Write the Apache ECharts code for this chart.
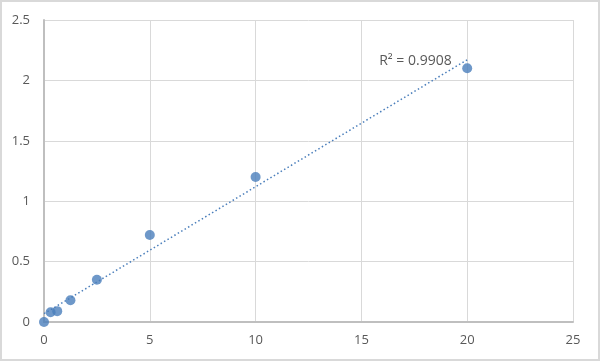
<!DOCTYPE html>
<html><head><meta charset="utf-8">
<script src="https://cdn.jsdelivr.net/npm/echarts@6/dist/echarts.min.js"></script>
<style>html,body{margin:0;padding:0;background:#fff}#c{width:600px;height:361px;box-sizing:border-box;border:2px solid #d9d9d9}</style>
</head><body><div id="c"></div>
<script>
const concentrations = [0, 0.3125, 0.625, 1.25, 2.5, 5, 10, 20];
const absorbances = [0, 0.08, 0.09, 0.18, 0.35, 0.72, 1.2, 2.1];
const xTicks = [0, 5, 10, 15, 20, 25];
const yTicks = [0, 0.5, 1, 1.5, 2, 2.5];
const r2Label = 'R² = 0.9908';

// linear least squares trendline from data
const n = concentrations.length;
const mx = concentrations.reduce((a,b)=>a+b,0)/n;
const my = absorbances.reduce((a,b)=>a+b,0)/n;
let sxy=0, sxx=0;
for(let i=0;i<n;i++){sxy+=(concentrations[i]-mx)*(absorbances[i]-my);sxx+=(concentrations[i]-mx)**2;}
const slope=sxy/sxx, intercept=my-slope*mx;
const xs0=concentrations[0], xs1=concentrations[n-1];
const trend=[[xs0,intercept+slope*xs0],[xs1,intercept+slope*xs1]];

const chart = echarts.init(document.getElementById('c'));
const lab = {color:'#595959',fontSize:13,fontFamily:'"Open Sans", Calibri, sans-serif'};
chart.setOption({
  animation:false,
  grid:{left:42,right:25,top:18,bottom:37,containLabel:false},
  xAxis:{type:'value',min:0,max:25,interval:5,
    axisLine:{show:true,onZero:false,lineStyle:{color:'#bfbfbf',width:2}},
    axisTick:{show:false},
    axisLabel:Object.assign({margin:12},lab),
    splitLine:{show:true,lineStyle:{color:'#d9d9d9',width:1}}},
  yAxis:{type:'value',min:0,max:2.5,interval:0.5,
    axisLine:{show:true,lineStyle:{color:'#bfbfbf',width:2}},
    axisTick:{show:false},
    axisLabel:Object.assign({margin:14},lab),
    splitLine:{show:true,lineStyle:{color:'#d9d9d9',width:1}}},
  series:[
    {type:'line',data:trend,symbol:'none',z:3,
     lineStyle:{color:'#4a7ebb',width:1.5,type:[1.5,2.5]},
     endLabel:{show:true,formatter:r2Label,offset:[-96,1],color:'#595959',fontSize:14,fontFamily:'"Open Sans", Calibri, sans-serif'}},
    {type:'scatter',data:concentrations.map((x,i)=>[x,absorbances[i]]),symbolSize:10,z:4,
     itemStyle:{color:'#4a7ebb'}}
  ]
});
</script></body></html>
